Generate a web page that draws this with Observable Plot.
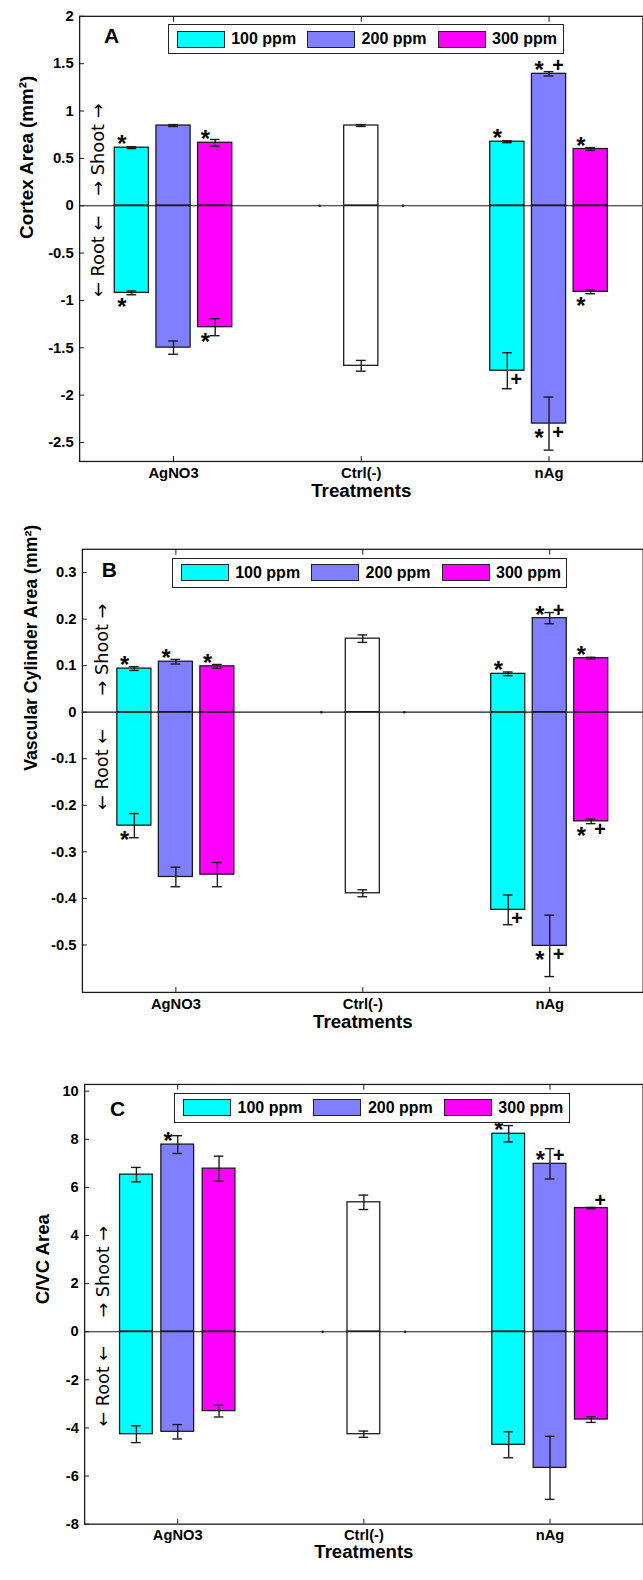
<!DOCTYPE html>
<html><head><meta charset="utf-8">
<script src="https://cdn.jsdelivr.net/npm/d3@7"></script>
<script src="https://cdn.jsdelivr.net/npm/@observablehq/plot@0.6"></script>
<style>
html,body{margin:0;padding:0;background:#fff;overflow:hidden;width:643px;height:1580px}
#wrap{position:relative;width:643px;height:1580px;overflow:hidden}
.panel{position:absolute;left:0}
.panel svg{display:block}
.legend{position:absolute;border:1.5px solid #222;background:#fff;display:flex;align-items:center;box-sizing:border-box;font:bold 16px "Liberation Sans",Arial,sans-serif;color:#000;white-space:nowrap}
.sw{width:48px;height:17px;border:1.5px solid #222;box-sizing:border-box;flex:none}
.letter{position:absolute;font:bold 21px "Liberation Sans",Arial,sans-serif;line-height:1;color:#000}
</style></head><body><div id="wrap"></div>
<script>
// ---------- categories ----------
const treatments = ["AgNO3", "Ctrl(-)", "nAg"];
const doses = ["100 ppm", "200 ppm", "300 ppm"];
const doseColors = ["#00FFFF", "#7F7FFF", "#FF00FF"];
const controlColor = "#FFFFFF";
// order: AgNO3 100/200/300, Ctrl(-) (only centre slot), nAg 100/200/300

// ---------- A: Cortex area ----------
const cortexShoot    = [0.613, 0.847, 0.665, 0, 0.847, 0, 0.676, 1.393, 0.599];
const cortexShootErr = [0.010, 0.010, 0.035, 0, 0.010, 0, 0.010, 0.023, 0.015];
const cortexShootSig = ["*", "", "*", "", "", "", "*", "*+", "*"];
const cortexRoot     = [-0.920, -1.498, -1.282, 0, -1.690, 0, -1.742, -2.300, -0.909];
const cortexRootErr  = [0.020, 0.070, 0.090, 0, 0.057, 0, 0.190, 0.280, 0.020];
const cortexRootSig  = ["*", "", "*", "", "", "", "+", "*+", "*"];
const cortexTicks = [-2.5, -2, -1.5, -1, -0.5, 0, 0.5, 1, 1.5, 2];

// ---------- B: Vascular cylinder area ----------
const vcShoot    = [0.0937, 0.1085, 0.0986, 0, 0.158, 0, 0.0824, 0.2021, 0.116];
const vcShootErr = [0.004, 0.005, 0.004, 0, 0.008, 0, 0.004, 0.012, 0.002];
const vcShootSig = ["*", "*", "*", "", "", "", "*", "*+", "*"];
const vcRoot     = [-0.2437, -0.354, -0.349, 0, -0.389, 0, -0.4246, -0.502, -0.2345];
const vcRootErr  = [0.026, 0.021, 0.026, 0, 0.0075, 0, 0.032, 0.066, 0.005];
const vcRootSig  = ["*", "", "", "", "", "", "+", "*+", "*+"];
const vcTicks = [-0.5, -0.4, -0.3, -0.2, -0.1, 0, 0.1, 0.2, 0.3];

// ---------- C: C/VC area ----------
const cvcShoot    = [6.53, 7.78, 6.78, 0, 5.38, 0, 8.23, 6.98, 5.14];
const cvcShootErr = [0.30, 0.37, 0.52, 0, 0.30, 0, 0.34, 0.63, 0.03];
const cvcShootSig = ["", "*", "", "", "", "", "*", "*+", "+"];
const cvcRoot     = [-4.26, -4.16, -3.30, 0, -4.26, 0, -4.70, -5.66, -3.65];
const cvcRootErr  = [0.35, 0.30, 0.245, 0, 0.13, 0, 0.54, 1.31, 0.12];
const cvcRootSig  = ["", "", "", "", "", "", "", "", ""];
const cvcTicks = [-8, -6, -4, -2, 0, 2, 4, 6, 8, 10];

const ink = "#1a1a1a";
const FONT = '"Liberation Sans", Arial, sans-serif';

function buildPanel(o) {
  const slot = o.slot, halfBar = o.halfBar, halfCap = o.halfCap;
  const rows = [];
  treatments.forEach((t, ti) => doses.forEach((d, di) => {
    const i = ti * 3 + di;
    [["shoot", o.shoot, o.shootErr, o.shootSig], ["root", o.root, o.rootErr, o.rootSig]].forEach(([part, vals, errs, sigs]) => {
      rows.push({t, d, part, v: vals[i], e: errs[i], s: sigs[i],
        pos: ti + (di - 1) * slot,
        fill: t === "Ctrl(-)" ? controlColor : doseColors[di]});
    });
  }));
  const bars = rows.filter(r => r.v !== 0);
  const zeros = rows.filter(r => r.v === 0 && r.part === "shoot");
  const caps = bars.filter(r => r.e > 0).flatMap(r => [{pos: r.pos, y: r.v - r.e}, {pos: r.pos, y: r.v + r.e}]);
  const sig = (part, ch) => bars.filter(r => r.part === part && r.s.includes(ch));
  return Plot.plot({
    width: o.width, height: o.height,
    marginLeft: o.marginLeft, marginRight: o.marginRight, marginTop: o.marginTop, marginBottom: o.marginBottom,
    style: {fontFamily: FONT, fontWeight: "bold", fontSize: "15px", color: "#000", background: "transparent", overflow: "visible"},
    x: {domain: [-0.5, 2.5]},
    y: {domain: o.yDomain},
    color: {type: "identity"},
    marks: [
      Plot.rectY(bars, {x1: d => d.pos - halfBar, x2: d => d.pos + halfBar, y1: 0, y2: "v", fill: "fill", stroke: ink, strokeWidth: 1.3}),
      Plot.ruleY([0], {stroke: ink, strokeWidth: 1.2}),
      Plot.dot(zeros, {x: "pos", y: 0, r: 1.3, fill: ink}),
      Plot.ruleX(bars, {x: "pos", y1: d => d.v - d.e, y2: d => d.v + d.e, stroke: ink, strokeWidth: 1.4}),
      Plot.ruleY(caps, {y: "y", x1: d => d.pos - halfCap, x2: d => d.pos + halfCap, stroke: ink, strokeWidth: 1.4}),
      Plot.text(sig("shoot", "*"), {x: "pos", y: "v", text: () => "*", dx: -10, dy: -3, fontSize: 24, fontWeight: "bold"}),
      Plot.text(sig("shoot", "+"), {x: "pos", y: "v", text: () => "+", dx: 9, dy: -8, fontSize: 20, fontWeight: "bold"}),
      Plot.text(sig("root", "*"), {x: "pos", y: "v", text: () => "*", dx: -10, dy: 15, fontSize: 24, fontWeight: "bold"}),
      Plot.text(sig("root", "+"), {x: "pos", y: "v", text: () => "+", dx: 9, dy: 9, fontSize: 20, fontWeight: "bold"}),
      Plot.frame({stroke: ink, strokeWidth: 1.3}),
      Plot.axisY(o.yTicks, {tickSize: 0, tickPadding: 6, tickFormat: d => String(d), label: null, fontSize: 15}),
      Plot.axisY(o.yTicks, {tickSize: 5, dx: 5, tickFormat: () => "", label: null, stroke: ink}),
      Plot.axisX([0, 1, 2], {anchor: "bottom", tickSize: 0, tickPadding: 6, tickFormat: i => treatments[i], label: null, fontSize: 15}),
      Plot.axisX([0, 1, 2], {anchor: "bottom", tickSize: 5, dy: -5, tickFormat: () => "", label: null, stroke: ink}),
      Plot.axisX([0, 1, 2], {anchor: "top", tickSize: 5, dy: 5, tickFormat: () => "", label: null, stroke: ink}),
      Plot.text(["Treatments"], {frameAnchor: "bottom", dy: o.titleDy, fontSize: 19, fontWeight: "bold"}),
      Plot.text([o.yLabel], {frameAnchor: "left", dx: o.yLabelDx, rotate: -90, fontSize: o.yLabelSize, fontWeight: "bold"}),
      Plot.text(["← Root ←"], {y: 0, frameAnchor: "left", dx: o.rsDx, dy: o.rsGap, rotate: -90, textAnchor: "end", fontSize: 18, fontWeight: "normal", fontFamily: "DejaVu Sans"}),
      Plot.text(["→ Shoot →"], {y: 0, frameAnchor: "left", dx: o.rsDx, dy: -o.rsGap, rotate: -90, textAnchor: "start", fontSize: 18, fontWeight: "normal", fontFamily: "DejaVu Sans"})
    ]
  });
}

const wrap = document.getElementById("wrap");
function place(node, top) {
  const div = document.createElement("div");
  div.className = "panel";
  div.style.top = top + "px";
  div.appendChild(node);
  wrap.appendChild(div);
}
function legend(left, top, width, height) {
  const box = document.createElement("div");
  box.className = "legend";
  Object.assign(box.style, {left: left + "px", top: top + "px", width: width + "px", height: height + "px", paddingLeft: "8px"});
  doses.forEach((d, i) => {
    const sw = document.createElement("div");
    sw.className = "sw";
    sw.style.background = doseColors[i];
    sw.style.marginRight = "6.5px";
    const tx = document.createElement("span");
    tx.textContent = d;
    tx.style.marginRight = i < 2 ? "11px" : "0";
    box.appendChild(sw); box.appendChild(tx);
  });
  wrap.appendChild(box);
}
function letter(ch, left, capTop) {
  const el = document.createElement("div");
  el.className = "letter";
  el.textContent = ch;
  el.style.left = left + "px";
  el.style.top = (capTop - 2.8) + "px";
  wrap.appendChild(el);
}

place(buildPanel({shoot: cortexShoot, shootErr: cortexShootErr, shootSig: cortexShootSig,
  root: cortexRoot, rootErr: cortexRootErr, rootSig: cortexRootSig,
  yDomain: [-2.7, 2], yTicks: cortexTicks, yLabel: "Cortex Area (mm²)", yLabelSize: 19, yLabelDx: -53, rsDx: 19, rsGap: 10,
  slot: 0.222, halfBar: 0.091, halfCap: 0.026, titleDy: 36,
  width: 650, height: 520, marginLeft: 80, marginRight: 0.6, marginTop: 16, marginBottom: 54}), 0);

place(buildPanel({shoot: vcShoot, shootErr: vcShootErr, shootSig: vcShootSig,
  root: vcRoot, rootErr: vcRootErr, rootSig: vcRootSig,
  yDomain: [-0.602, 0.35], yTicks: vcTicks, yLabel: "Vascular Cylinder Area (mm²)", yLabelSize: 18, yLabelDx: -52, rsDx: 20, rsGap: 17,
  slot: 0.222, halfBar: 0.091, halfCap: 0.026, titleDy: 36,
  width: 654, height: 525, marginLeft: 83.3, marginRight: 0.3, marginTop: 29.3, marginBottom: 45}), 520);

place(buildPanel({shoot: cvcShoot, shootErr: cvcShootErr, shootSig: cvcShootSig,
  root: cvcRoot, rootErr: cvcRootErr, rootSig: cvcRootSig,
  yDomain: [-8, 10.28], yTicks: cvcTicks, yLabel: "C/VC Area", yLabelSize: 19, yLabelDx: -42.7, rsDx: 19, rsGap: 14.5,
  slot: 0.222, halfBar: 0.088, halfCap: 0.026, titleDy: 35,
  width: 657, height: 535, marginLeft: 86, marginRight: 0.4, marginTop: 39.8, marginBottom: 45.9}), 1045);

legend(167.7, 24.3, 396, 29.7);
legend(171.7, 558.3, 395.6, 29.4);
legend(174, 1093.4, 395.7, 29.2);
letter("A", 104, 28);
letter("B", 101.7, 561.7);
letter("C", 110, 1100.3);
</script></body></html>
